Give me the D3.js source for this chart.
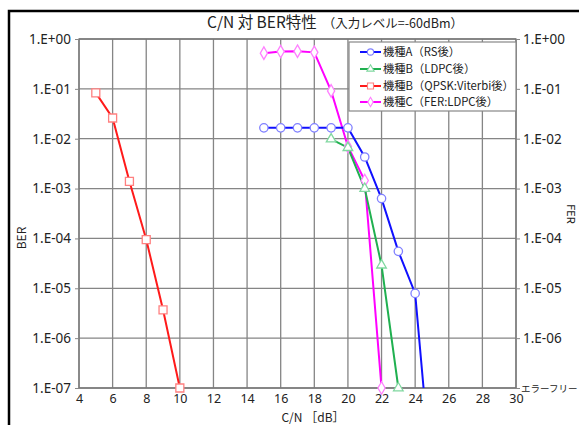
<!DOCTYPE html>
<html><head><meta charset="utf-8">
<script src="https://cdn.jsdelivr.net/npm/d3@7"></script>
<style>body{margin:0;background:#fff}svg{display:block}text{font-family:"Noto Sans CJK JP","Noto Sans",sans-serif}</style>
</head><body><svg id="c" width="579" height="425"></svg>
<script>
const xTicks = [4,6,8,10,12,14,16,18,20,22,24,26,28,30];
const yTicks = [1,1e-1,1e-2,1e-3,1e-4,1e-5,1e-6,1e-7];
const yTickLabels = ["1.E+00","1.E-01","1.E-02","1.E-03","1.E-04","1.E-05","1.E-06","1.E-07"];
const yRightLabels = ["1.E+00","1.E-01","1.E-02","1.E-03","1.E-04","1.E-05","1.E-06","エラーフリー"];
const seriesNames = ["機種A（RS後）","機種B（LDPC後）","機種B（QPSK:Viterbi後）","機種C（FER:LDPC後）"];
const cnA = [15,16,17,18,19,20,21,22,23,24,24.5];
const berA = [0.0165,0.0165,0.0165,0.0165,0.0165,0.0165,0.0043,0.00063,0.000055,0.0000079,1e-7];
const cnB = [19,20,21,22,23];
const berB = [0.0098,0.0066,0.001,0.000029,1e-7];
const cnBQ = [5,6,7,8,9,10];
const berBQ = [0.083,0.026,0.0014,0.000095,0.0000037,1e-7];
const cnC = [15,16,17,18,19,20,21,22];
const berC = [0.52,0.56,0.57,0.54,0.091,0.007,0.00145,1e-7];

const svg = d3.select("#c");
const L=79,R=516,T=39,B=388;
const x = d3.scaleLinear().domain([4,30]).range([L,R]);
const y = d3.scaleLog().domain([1e-7,1]).range([B,T]);

// frame
svg.append("path").attr("d","M9,440 L9,11 L590,11").attr("fill","none").attr("stroke","#000").attr("stroke-width",2.5);

// grid
const g = svg.append("g");
g.selectAll(".vg").data(xTicks).join("line").attr("x1",d=>x(d)).attr("x2",d=>x(d)).attr("y1",T).attr("y2",B)
 .attr("stroke","#858585").attr("stroke-width",1.3);
g.selectAll(".hg").data(yTicks).join("line").attr("y1",d=>y(d)).attr("y2",d=>y(d)).attr("x1",L).attr("x2",R)
 .attr("stroke","#858585").attr("stroke-width",1.3);
g.append("rect").attr("x",L).attr("y",T).attr("width",R-L).attr("height",B-T).attr("fill","none").attr("stroke","#777").attr("stroke-width",1.3);

// axes
const axL = d3.axisLeft(y).tickValues(yTicks).tickFormat((d,i)=>yTickLabels[i]).tickSize(4).tickPadding(4);
const axR = d3.axisRight(y).tickValues(yTicks).tickFormat((d,i)=>yRightLabels[i]).tickSize(4).tickPadding(3);
const axB = d3.axisBottom(x).tickValues(xTicks).tickSize(0).tickPadding(6);
const gl = svg.append("g").attr("transform",`translate(${L},0)`).call(axL);
const gr = svg.append("g").attr("transform",`translate(${R},0)`).call(axR);
const gb = svg.append("g").attr("transform",`translate(0,${B})`).call(axB);
[gl,gr,gb].forEach(a=>{a.select(".domain").remove();a.selectAll("line").attr("stroke","#888");
 a.selectAll("text").attr("fill","#222").style("font-size","13.5px").style("font-family","'Noto Sans','DejaVu Sans',sans-serif");});
gr.selectAll("text").filter((d,i)=>i===7).style("font-size","9.5px").style("font-family","'Noto Sans CJK JP',sans-serif").attr("x",5);
gb.selectAll("text").style("font-size","12.5px");

// titles
const t = svg.append("text").attr("x",207).attr("y",28).attr("text-anchor","start").attr("fill","#222");
t.append("tspan").text("C/N 対 BER特性").style("font-size","15.5px");
t.append("tspan").text("（入力レベル=-60dBm）").style("font-size","12.5px").attr("dx",6);
svg.append("text").attr("x",313).attr("y",422).attr("text-anchor","middle").attr("fill","#222").style("font-size","12px").text("C/N ［dB］");
svg.append("text").attr("transform","translate(26,238) rotate(-90)").attr("text-anchor","middle").attr("fill","#222").style("font-size","12px").text("BER");
svg.append("text").attr("transform","translate(567,214) rotate(90)").attr("text-anchor","middle").attr("fill","#222").style("font-size","11px").text("FER");

// series
const series = [
 {xs:cnA, ys:berA, line:"#1010ff", mk:"#8080ff", shape:"circle", noMarkLast:true},
 {xs:cnB, ys:berB, line:"#20b050", mk:"#80d8a0", shape:"triangle"},
 {xs:cnBQ, ys:berBQ, line:"#ff1a1a", mk:"#ff8080", shape:"square"},
 {xs:cnC, ys:berC, line:"#ff00ff", mk:"#ff80ff", shape:"diamond"}
];
const shapeGen = s => {
 if(s==="circle") return d3.symbol(d3.symbolCircle,55)();
 if(s==="triangle") return d3.symbol(d3.symbolTriangle,40)();
 if(s==="square") return d3.symbol(d3.symbolSquare,64)();
 return d3.symbol(d3.symbolDiamond,45)();
};
const lineGen = d3.line().x(d=>x(d[0])).y(d=>y(d[1]));
const plot = svg.append("g");
const drawOrder=[2,3,1,0];
drawOrder.forEach(i=>{
 const s=series[i]; const pts=s.xs.map((v,k)=>[v,s.ys[k]]);
 plot.append("path").datum(pts).attr("d",lineGen).attr("fill","none").attr("stroke",s.line).attr("stroke-width",2);
});
drawOrder.forEach(i=>{
 const s=series[i]; let pts=s.xs.map((v,k)=>[v,s.ys[k]]);
 if(s.noMarkLast) pts=pts.slice(0,-1);
 plot.selectAll(null).data(pts).join("path").attr("d",shapeGen(s.shape))
  .attr("transform",d=>`translate(${x(d[0])},${y(d[1])})`).attr("fill","#fff").attr("stroke",s.mk).attr("stroke-width",1.3);
});

// legend
const lg = svg.append("g");
lg.append("rect").attr("x",349).attr("y",42).attr("width",167).attr("height",69).attr("fill","#fff").attr("stroke","#888").attr("stroke-width",1.2);
const ly=[52,69,86,102];
series.forEach((s,i)=>{
 lg.append("line").attr("x1",360).attr("x2",381).attr("y1",ly[i]).attr("y2",ly[i]).attr("stroke",s.line).attr("stroke-width",2);
 lg.append("path").attr("d",shapeGen(s.shape)).attr("transform",`translate(370.5,${ly[i]}) scale(0.75)`).attr("fill","#fff").attr("stroke",s.mk).attr("stroke-width",1.5);
 lg.append("text").attr("x",383).attr("y",ly[i]+4).attr("fill","#222").style("font-size","11.3px").text(seriesNames[i]);
});
</script></body></html>
